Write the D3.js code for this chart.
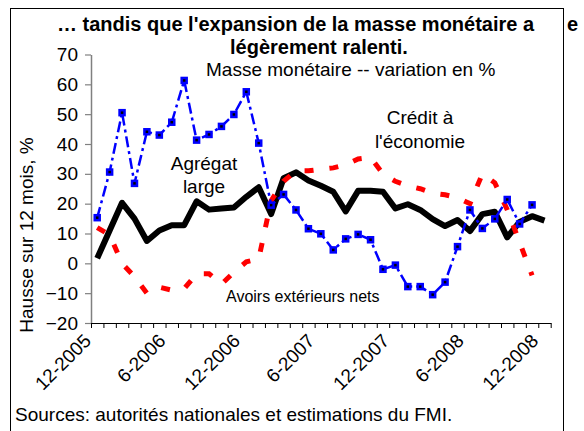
<!DOCTYPE html>
<html>
<head>
<meta charset="utf-8">
<script src="https://d3js.org/d3.v7.min.js"></script>
<style>
  body { margin: 0; background: #fff; }
  svg { font-family: "Liberation Sans", Arial, sans-serif; }
</style>
</head>
<body>
<svg id="chart" width="584" height="431"></svg>
<script>
// months on the category axis, 12-2005 .. 12-2008
const months = [
  '12-2005', '1-2006', '2-2006', '3-2006', '4-2006', '5-2006', '6-2006',
  '7-2006', '8-2006', '9-2006', '10-2006', '11-2006', '12-2006',
  '1-2007', '2-2007', '3-2007', '4-2007', '5-2007', '6-2007',
  '7-2007', '8-2007', '9-2007', '10-2007', '11-2007', '12-2007',
  '1-2008', '2-2008', '3-2008', '4-2008', '5-2008', '6-2008',
  '7-2008', '8-2008', '9-2008', '10-2008', '11-2008', '12-2008'
];
const shownMonths = ['12-2005', '6-2006', '12-2006', '6-2007', '12-2007', '6-2008', '12-2008'];
const yTicks = [-20, -10, 0, 10, 20, 30, 40, 50, 60, 70];

// 12-month growth, %
const agregatLarge = [1.7, 11, 20.3, 15, 7.5, 11, 12.8, 12.8, 20.8, 18, 18.4, 18.7, 22.3,
  25.5, 16.5, 28.5, 30.5, 27.8, 26, 24, 17.4, 24.3, 24.3, 24, 18.4,
  19.8, 17.9, 14.8, 12.5, 14.5, 10.8, 16.5, 17.3, 8.7, 13.9, 15.8, 14.3];
const avoirsExterieurs = [15.3, 30.6, 50.5, 26.8, 44.1, 43, 47.3, 61.3, 41.3, 43.2, 45.9, 49.9, 57.5,
  40.3, 19.5, 23.1, 17.9, 11.6, 9.9, 4.5, 8.2, 9.7, 7.9, -2, -0.6,
  -7.8, -7.8, -10.5, -6.3, 5.6, 17.9, 11.7, 14.9, 21.4, 13.2, 19.6, null];
const creditEconomie = [12, 9.5, 0, -4.5, -10, -8, -9, -8.5, -3.5, -3.5, -7, -3, 0.5,
  1.5, 21, 27.5, 31, 31, 31.5, 32, 33, 35, 35.5, 30, 27.5,
  26, 25, 23.5, 23, 22, 20, 30, 27, 18, 7, -4, null];

const svg = d3.select('#chart');

// outer frame
svg.append('rect')
  .attr('x', 10.5).attr('y', 8.5)
  .attr('width', 553).attr('height', 440)
  .attr('fill', 'none').attr('stroke', '#000');

const plotLeft = 91, plotRight = 550.7, plotTop = 54.5, plotBottom = 323;

const x = d3.scaleBand().domain(months).range([plotLeft, plotRight]);
const xTick = d3.scaleLinear().domain([0, months.length]).range([plotLeft, plotRight]);
const y = d3.scaleLinear().domain([-20, 70]).range([plotBottom, plotTop]);
const cx = m => x(m) + x.bandwidth() / 2;

// y axis
const yAxis = svg.append('g')
  .attr('transform', `translate(${plotLeft},0)`)
  .call(d3.axisLeft(y).tickValues(yTicks).tickSize(6).tickSizeOuter(0).tickPadding(7));
yAxis.select('.domain').attr('stroke', '#808080').attr('stroke-width', 1.5);
yAxis.selectAll('.tick line').attr('stroke', '#808080').attr('stroke-width', 1.2);
yAxis.selectAll('.tick text')
  .attr('fill', '#000')
  .style('font-size', '19px')
  .style('font-family', '"Liberation Sans", Arial, sans-serif');

// x axis: ticks between the months
const xAxis = svg.append('g')
  .attr('transform', `translate(0,${plotBottom})`)
  .call(d3.axisBottom(xTick).tickValues(d3.range(0, months.length + 1)).tickFormat('').tickSize(5).tickSizeOuter(0));
xAxis.select('.domain').attr('stroke', '#000').attr('stroke-width', 1.2);
xAxis.selectAll('.tick line').attr('stroke', '#000');

svg.selectAll('text.xlab')
  .data(shownMonths)
  .enter().append('text')
  .attr('class', 'xlab')
  .attr('transform', d => `translate(${cx(d) - 5},342) rotate(-45)`)
  .attr('text-anchor', 'end')
  .style('font-size', '19px')
  .text(d => d);

// series
const line = d3.line()
  .defined(v => v != null)
  .x((v, i) => cx(months[i]))
  .y(v => y(v));

svg.append('path')
  .attr('d', line(agregatLarge))
  .attr('fill', 'none')
  .attr('stroke', '#000')
  .attr('stroke-width', 6)
  .attr('stroke-linejoin', 'round');

svg.append('path')
  .attr('d', line(creditEconomie))
  .attr('fill', 'none')
  .attr('stroke', '#ff0000')
  .attr('stroke-width', 5)
  .attr('stroke-dasharray', '9,16');

svg.append('path')
  .attr('d', line(avoirsExterieurs))
  .attr('fill', 'none')
  .attr('stroke', '#0000ff')
  .attr('stroke-width', 2.5)
  .attr('stroke-dasharray', '11,4,3,4');

svg.selectAll('rect.mark')
  .data(avoirsExterieurs.map((v, i) => ({ m: months[i], v })).filter(d => d.v != null))
  .enter().append('rect')
  .attr('class', 'mark')
  .attr('x', d => cx(d.m) - 2.5)
  .attr('y', d => y(d.v) - 2.5)
  .attr('width', 5).attr('height', 5)
  .attr('fill', '#000')
  .attr('stroke', '#0000ff')
  .attr('stroke-width', 2.5);

// titles and labels
svg.append('text').attr('x', 57).attr('y', 31)
  .style('font-size', '20px').style('font-weight', 'bold')
  .text('… tandis que l\'expansion de la masse monétaire a');
svg.append('text').attr('x', 567).attr('y', 31)
  .style('font-size', '20px').style('font-weight', 'bold')
  .text('e');
svg.append('text').attr('x', 230).attr('y', 54)
  .style('font-size', '20px').style('font-weight', 'bold')
  .text('légèrement ralenti.');
svg.append('text').attr('x', 206).attr('y', 76)
  .style('font-size', '19px')
  .text('Masse monétaire -- variation en %');

svg.append('text')
  .attr('transform', 'translate(33,235) rotate(-90)')
  .attr('text-anchor', 'middle')
  .style('font-size', '19px')
  .text('Hausse sur 12 mois, %');

svg.append('text').attr('x', 204).attr('y', 170).attr('text-anchor', 'middle')
  .style('font-size', '19px').text('Agrégat');
svg.append('text').attr('x', 204).attr('y', 193).attr('text-anchor', 'middle')
  .style('font-size', '19px').text('large');
svg.append('text').attr('x', 420).attr('y', 124).attr('text-anchor', 'middle')
  .style('font-size', '19px').text('Crédit à');
svg.append('text').attr('x', 420).attr('y', 148).attr('text-anchor', 'middle')
  .style('font-size', '19px').text('l\'économie');
svg.append('text').attr('x', 226).attr('y', 302)
  .style('font-size', '16px').text('Avoirs extérieurs nets');

svg.append('text').attr('x', 15).attr('y', 421)
  .style('font-size', '19px')
  .text('Sources: autorités nationales et estimations du FMI.');
</script>
</body>
</html>
